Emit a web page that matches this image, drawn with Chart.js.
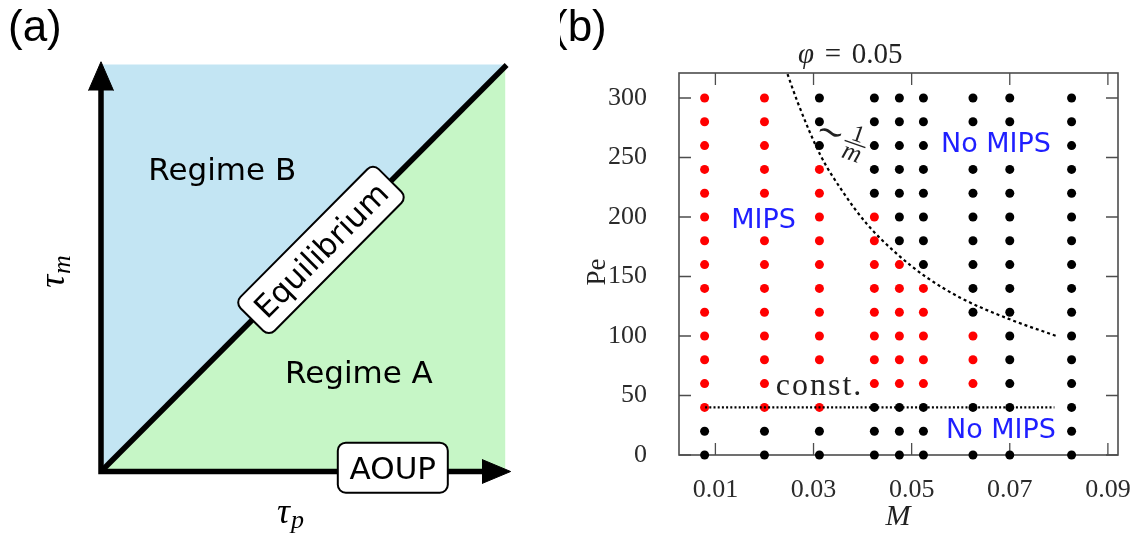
<!DOCTYPE html>
<html>
<head>
<meta charset="utf-8">
<script src="https://cdn.jsdelivr.net/npm/chart.js@4.4.1/dist/chart.umd.min.js"></script>
<style>
  html, body { margin: 0; padding: 0; background: #ffffff; }
  #wrap { position: relative; width: 1141px; height: 545px; overflow: hidden; }
  canvas { position: absolute; top: 0; }
  #regimes { left: 0; }
  #phase { left: 560px; }
</style>
</head>
<body>
<div id="wrap">
  <canvas id="regimes" width="560" height="545"></canvas>
  <canvas id="phase" width="581" height="545"></canvas>
</div>
<script>
// ---------- Panel (a): regimes in the (tau_p, tau_m) plane, unit square ----------
const regimeBX = [0, 0, 1];
const regimeBY = [0, 1, 1];
const regimeAX = [0, 1, 1];
const regimeAY = [0, 1, 0];
const equilibriumX = [0, 1.005];
const equilibriumY = [0, 1.0];
const axesX = [0, 0, 0.95];
const axesY = [0.94, 0, 0];
const arrowUpX = [-0.031, 0, 0.031];
const arrowUpY = [0.937, 1.008, 0.937];
const arrowRightX = [0.944, 1.015, 0.944];
const arrowRightY = [-0.0295, 0, 0.0295];

// ---------- Panel (b): phase diagram, Pe versus M ----------
const massValues = [0.0078, 0.0200, 0.0312, 0.0424, 0.0475, 0.0524, 0.0625, 0.0700, 0.0826];
const pecletValues = [0, 20, 40, 60, 80, 100, 120, 140, 160, 180, 200, 220, 240, 260, 280, 300];
// lowest / highest Pe showing MIPS in each mass column (null: none)
const mipsLowest  = [40, 40, 40, 60, 60, 60, 60, null, null];
const mipsHighest = [300, 300, 240, 200, 160, 140, 100, null, null];
// phi = 0.05 boundary (~1/m)
const boundaryMass = [0.0247, 0.0268, 0.0314, 0.0360, 0.0409, 0.0470, 0.0528, 0.0600, 0.0700, 0.0795];
const boundaryPe   = [320, 296, 252, 221, 194, 169, 150, 132, 114, 100];
// constant threshold
const constMass = [0.0079, 0.0791];
const constPe   = [40, 40];
const massTicks = [0.01, 0.03, 0.05, 0.07, 0.09];
const peTicks   = [0, 50, 100, 150, 200, 250, 300];

const zip = (xs, ys) => xs.map((x, i) => ({ x: x, y: ys[i] }));

const mipsPoints = [];
const noMipsPoints = [];
massValues.forEach((m, i) => {
  pecletValues.forEach(pe => {
    const inside = mipsLowest[i] !== null && pe >= mipsLowest[i] && pe <= mipsHighest[i];
    (inside ? mipsPoints : noMipsPoints).push({ x: m, y: pe });
  });
});

const SANS = '"DejaVu Sans", "Noto Sans", sans-serif';
const SERIF = '"Liberation Serif", "DejaVu Serif", serif';

function roundBox(ctx, cx, cy, w, h, r) {
  ctx.beginPath();
  ctx.roundRect(cx - w / 2, cy - h / 2, w, h, r);
  ctx.fillStyle = '#ffffff';
  ctx.fill();
  ctx.lineWidth = 2;
  ctx.strokeStyle = '#000000';
  ctx.stroke();
}

// ---------- labels of panel (a) ----------
const sketchLabels = {
  id: 'sketchLabels',
  afterDatasetsDraw(chart) {
    const ctx = chart.ctx;
    const sx = chart.scales.x, sy = chart.scales.y;
    const px = v => sx.getPixelForValue(v);
    const py = v => sy.getPixelForValue(v);
    ctx.save();

    // regime names
    ctx.fillStyle = '#000';
    ctx.font = '31px ' + SANS;
    ctx.textAlign = 'center';
    ctx.textBaseline = 'alphabetic';
    ctx.fillText('Regime B', px(0.3005), py(0.717));
    ctx.fillText('Regime A', px(0.639), py(0.2177));

    // boxed label on the diagonal
    const ang = Math.atan2(py(1) - py(0), px(1) - px(0));
    ctx.save();
    ctx.translate(px(0.545), py(0.545));
    ctx.rotate(ang);
    roundBox(ctx, 0, 0, 196, 48, 8);
    ctx.fillStyle = '#000';
    ctx.font = '31px ' + SANS;
    ctx.textAlign = 'center';
    ctx.fillText('Equilibrium', 0, 11);
    ctx.restore();

    // boxed label on the tau_p axis
    const ax = px(0.723), ay = py(0.0093);
    roundBox(ctx, ax, ay, 110, 50, 8);
    ctx.fillStyle = '#000';
    ctx.font = '31px ' + SANS;
    ctx.textAlign = 'center';
    ctx.fillText('AOUP', ax, ay + 11);

    // axis names
    ctx.textAlign = 'left';
    ctx.font = 'italic 36px ' + SERIF;
    const tauW = ctx.measureText('\u03C4').width;
    ctx.fillText('\u03C4', 277, 523);
    ctx.font = 'italic 26px ' + SERIF;
    ctx.fillText('p', 277 + tauW + 1, 528);

    ctx.save();
    ctx.translate(64, 272);
    ctx.rotate(-Math.PI / 2);
    ctx.font = 'italic 36px ' + SERIF;
    const tw = ctx.measureText('\u03C4').width;
    ctx.font = 'italic 26px ' + SERIF;
    const mw = ctx.measureText('m').width;
    const start = -(tw + mw) / 2;
    ctx.font = 'italic 36px ' + SERIF;
    ctx.fillText('\u03C4', start, 0);
    ctx.font = 'italic 26px ' + SERIF;
    ctx.fillText('m', start + tw + 1, 6);
    ctx.restore();

    // panel tag
    ctx.font = '44px "Liberation Sans", Arial, sans-serif';
    ctx.textAlign = 'left';
    ctx.fillText('(a)', 8, 41);
    ctx.restore();
  }
};

const shape = (xs, ys, color, order) => ({
  data: zip(xs, ys),
  fill: 'shape',
  backgroundColor: color,
  borderColor: color,
  borderWidth: 1,
  pointRadius: 0,
  order: order,
  clip: false
});

// unit square spans pixels 101..504.6 (x) and 471.5..65 (y); the scales
// reach a little beyond it so the arrowheads lie inside the plotting area
new Chart(document.getElementById('regimes'), {
  type: 'line',
  data: {
    datasets: [
      shape(regimeBX, regimeBY, '#c3e5f3', 5),
      shape(regimeAX, regimeAY, '#c6f6c6', 5),
      {
        data: zip(equilibriumX, equilibriumY),
        borderColor: '#000', borderWidth: 5.5, borderCapStyle: 'butt',
        pointRadius: 0, fill: false, order: 3, clip: false
      },
      {
        data: zip(axesX, axesY),
        borderColor: '#000', borderWidth: 5.5, borderJoinStyle: 'miter', borderCapStyle: 'butt',
        pointRadius: 0, fill: false, order: 2, clip: false
      },
      shape(arrowUpX, arrowUpY, '#000000', 1),
      shape(arrowRightX, arrowRightY, '#000000', 1)
    ]
  },
  options: {
    responsive: false,
    animation: false,
    events: [],
    layout: { padding: { left: 20.28, right: 15.04, top: 24.35, bottom: 32.85 } },
    plugins: { legend: { display: false }, tooltip: { enabled: false } },
    elements: { line: { tension: 0 } },
    scales: {
      x: { type: 'linear', min: -0.2, max: 1.1, display: false },
      y: { type: 'linear', min: -0.1, max: 1.1, display: false }
    }
  },
  plugins: [sketchLabels]
});

// ---------- frame with inward ticks for panel (b) ----------
const phaseFrame = {
  id: 'phaseFrame',
  beforeDatasetsDraw(chart) {
    const ctx = chart.ctx, a = chart.chartArea;
    const sx = chart.scales.x, sy = chart.scales.y;
    ctx.save();
    ctx.strokeStyle = '#4d4d4d';
    ctx.lineWidth = 1.6;
    ctx.strokeRect(a.left, a.top, a.right - a.left, a.bottom - a.top);
    ctx.lineWidth = 1.3;
    ctx.beginPath();
    massTicks.forEach(v => {
      const p = sx.getPixelForValue(v);
      ctx.moveTo(p, a.bottom); ctx.lineTo(p, a.bottom - 12);
      ctx.moveTo(p, a.top); ctx.lineTo(p, a.top + 12);
    });
    peTicks.forEach(v => {
      const p = sy.getPixelForValue(v);
      ctx.moveTo(a.left, p); ctx.lineTo(a.left + 12, p);
      ctx.moveTo(a.right, p); ctx.lineTo(a.right - 12, p);
    });
    ctx.stroke();
    ctx.restore();
  }
};

// ---------- labels of panel (b) ----------
function boxedText(ctx, text, cx, baseline, capH) {
  const w = ctx.measureText(text).width;
  ctx.save();
  ctx.fillStyle = '#ffffff';
  ctx.fillRect(cx - w / 2 - 3, baseline - capH - 4, w + 6, capH + 8);
  ctx.restore();
  ctx.fillText(text, cx, baseline);
}

const phaseLabels = {
  id: 'phaseLabels',
  afterDatasetsDraw(chart) {
    const ctx = chart.ctx;
    const off = 560; // page offset of this canvas
    ctx.save();
    ctx.textAlign = 'center';
    ctx.textBaseline = 'alphabetic';

    ctx.fillStyle = '#1f1fff';
    ctx.font = '27px ' + SANS;
    boxedText(ctx, 'MIPS', 763.6 - off, 228, 20);
    boxedText(ctx, 'No MIPS', 996 - off, 151.7, 20);
    boxedText(ctx, 'No MIPS', 1001 - off, 438, 20);

    ctx.fillStyle = '#222';
    ctx.font = '32px ' + SERIF;
    ctx.letterSpacing = '2px';
    boxedText(ctx, 'const.', 819.5 - off, 395, 18);
    ctx.letterSpacing = '0px';

    // phi = 0.05 above the frame
    ctx.font = 'italic 29px ' + SERIF;
    ctx.fillText('\u03C6', 806 - off, 63);
    ctx.font = '29px ' + SERIF;
    ctx.fillText('=', 833 - off, 63);
    ctx.fillText('0.05', 877 - off, 63);

    // ~ 1/m next to the boundary
    ctx.save();
    ctx.translate(855 - off, 144);
    ctx.rotate(19 * Math.PI / 180);
    ctx.font = '34px ' + SERIF;
    ctx.textBaseline = 'middle';
    ctx.fillText('\u223C', -27, -1);
    ctx.textBaseline = 'alphabetic';
    ctx.font = '24px ' + SERIF;
    ctx.fillText('1', 0, -3);
    ctx.font = 'italic 26px ' + SERIF;
    ctx.fillText('m', 0, 17);
    ctx.lineWidth = 1.4;
    ctx.strokeStyle = '#222';
    ctx.beginPath();
    ctx.moveTo(-11, 0); ctx.lineTo(11, 0);
    ctx.stroke();
    ctx.restore();

    // axis names
    ctx.font = 'italic 30px ' + SERIF;
    ctx.fillText('M', 898 - off, 525);
    ctx.save();
    ctx.translate(605 - off, 272);
    ctx.rotate(-Math.PI / 2);
    ctx.font = '27px ' + SERIF;
    ctx.fillText('Pe', 0, 0);
    ctx.restore();

    // panel tag
    ctx.fillStyle = '#000';
    ctx.font = '44px "Liberation Sans", Arial, sans-serif';
    ctx.textAlign = 'left';
    ctx.fillText('(b)', 553 - off, 41);
    ctx.restore();
  }
};

const tickFont = { family: SERIF, size: 26 };

new Chart(document.getElementById('phase'), {
  type: 'scatter',
  data: {
    datasets: [
      {
        type: 'line',
        data: zip(boundaryMass, boundaryPe),
        borderColor: '#000', borderWidth: 2.2, borderDash: [3, 3],
        cubicInterpolationMode: 'monotone',
        pointRadius: 0, fill: false, order: 0, clip: false
      },
      {
        type: 'line',
        data: zip(constMass, constPe),
        borderColor: '#000', borderWidth: 2.2, borderDash: [2, 2.2],
        pointRadius: 0, fill: false, order: 0, clip: false
      },
      {
        data: mipsPoints,
        backgroundColor: '#ff0000', pointBorderWidth: 0, pointRadius: 4.5,
        order: 1, clip: false
      },
      {
        data: noMipsPoints,
        backgroundColor: '#000000', pointBorderWidth: 0, pointRadius: 4.5,
        order: 1, clip: false
      }
    ]
  },
  options: {
    responsive: false,
    animation: false,
    events: [],
    layout: { padding: { left: 0, right: 23, top: 73, bottom: 0 } },
    plugins: { legend: { display: false }, tooltip: { enabled: false } },
    scales: {
      x: {
        type: 'linear', min: 0.00258, max: 0.09206,
        afterBuildTicks: s => { s.ticks = massTicks.map(v => ({ value: v })); },
        afterFit: s => { s.height = 90; s.paddingLeft = 0; s.paddingRight = 0; },
        grid: { display: false }, border: { display: false },
        ticks: {
          padding: 12, color: '#2b2b2b', font: tickFont,
          maxRotation: 0, autoSkip: false,
          callback: v => Number(v).toFixed(2)
        }
      },
      y: {
        type: 'linear', min: 0, max: 321,
        afterBuildTicks: s => { s.ticks = peTicks.map(v => ({ value: v })); },
        afterFit: s => { s.width = 119; s.paddingTop = 0; s.paddingBottom = 0; },
        grid: { display: false }, border: { display: false },
        ticks: {
          padding: 24, color: '#2b2b2b', font: tickFont,
          autoSkip: false,
          callback: v => String(v)
        }
      }
    }
  },
  plugins: [phaseFrame, phaseLabels]
});
</script>
</body>
</html>
